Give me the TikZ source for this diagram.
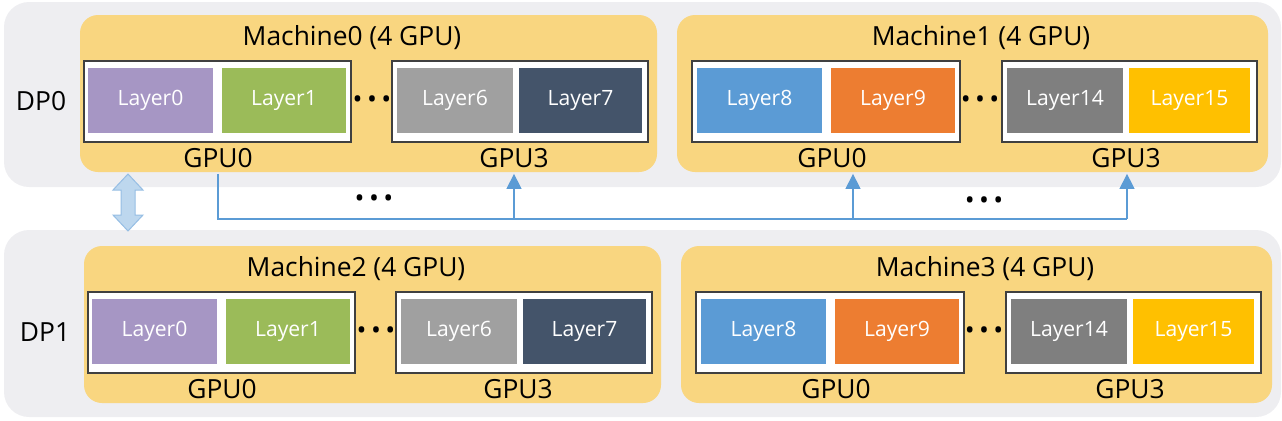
\documentclass[tikz,border=0pt]{standalone}
\usepackage{fontspec}
\setmainfont{Open Sans}
\usetikzlibrary{arrows.meta,backgrounds}

\definecolor{bandgray}{RGB}{238,238,241}
\definecolor{machineyellow}{RGB}{249,214,128}
\definecolor{boxborder}{RGB}{64,64,64}
\definecolor{linkblue}{RGB}{91,155,213}
\definecolor{syncfill}{RGB}{189,215,238}
\definecolor{syncdraw}{RGB}{150,190,228}
\definecolor{lpurple}{RGB}{166,150,196}
\definecolor{lgreen}{RGB}{155,187,89}
\definecolor{lsilver}{RGB}{160,160,160}
\definecolor{lnavy}{RGB}{68,84,106}
\definecolor{lblue}{RGB}{91,155,213}
\definecolor{lorange}{RGB}{237,125,49}
\definecolor{lgray}{RGB}{127,127,127}
\definecolor{lgold}{RGB}{255,192,0}

\begin{document}
\begin{tikzpicture}[x=0.2mm,y=-0.2mm,
    machine/.style={fill=machineyellow,rounded corners=3.6mm},
    gpubox/.style={draw=boxborder,fill=white,line width=0.3mm},
    layer/.style={minimum height=13mm,inner sep=0pt,text=white,font=\fontsize{12}{14}\selectfont},
    title/.style={font=\fontsize{15}{18}\selectfont},
    dots/.style={font=\fontsize{15}{18}\selectfont,inner sep=0pt},
    link/.style={draw=linkblue,line width=0.25mm},
    tip/.style={-{Triangle[width=3mm,length=3mm]}},
    sync/.style={fill=syncfill,draw=syncdraw,line width=0.2mm}]
    \useasboundingbox (0,0) rectangle (1282,420);

    \begin{scope}[on background layer]
      \fill[bandgray,rounded corners=5mm] (4,2) rectangle (1281,187);
      \fill[bandgray,rounded corners=5mm] (4,230) rectangle (1281,417);
    \end{scope}

    % one row per data parallel group
    \foreach \r/\dx/\dy in {0/0/0,1/4/231}{
      \pgfmathtruncatemacro\ma{2*\r}
      \pgfmathtruncatemacro\mb{2*\r+1}
      \begin{scope}[shift={(\dx,\dy)}]
        \node[title] (dp\r) at (41,101) {DP\r};

        \fill[machine] (80,15) rectangle (657,172);
        \fill[machine] (677,15) rectangle (1268,172);
        \node[title] (m\ma) at (352,38) {Machine\ma\ (4 GPU)};
        \node[title] (m\mb) at (981,38) {Machine\mb\ (4 GPU)};

        \draw[gpubox] (84,61) rectangle (351,142);
        \draw[gpubox] (392,61) rectangle (648,142);
        \draw[gpubox] (692,61) rectangle (960,142);
        \draw[gpubox] (1002,61) rectangle (1257,142);

        \foreach \n/\lx/\lw/\lc in {0/150.5/125/lpurple,1/284/124/lgreen,
            6/455/116/lsilver,7/580.5/123/lnavy,8/759.5/125/lblue,
            9/893/124/lorange,14/1065/116/lgray,15/1189.5/121/lgold}
          \node[layer,fill=\lc,minimum width=\lw*0.2mm] (L\r-\n) at (\lx,100.5) {Layer\n};

        \node[dots] (dots\ma) at (372,102) {\textbullet\,\textbullet\,\textbullet};
        \node[dots] (dots\mb) at (980,102) {\textbullet\,\textbullet\,\textbullet};

        \node[title] (gpuA\ma) at (218,158) {GPU0};
        \node[title] (gpuB\ma) at (514,158) {GPU3};
        \node[title] (gpuA\mb) at (832,158) {GPU0};
        \node[title] (gpuB\mb) at (1126,158) {GPU3};
      \end{scope}
    }

    % pipeline links between the stages of DP0
    \coordinate (busR) at (1127,219);
    \coordinate (tap) at (853,219);
    \draw[link] (gpuA0.south) |- (busR);
    \draw[link,tip] (gpuB0.south |- busR) -- (gpuB0.south);
    \draw[link,tip] (tap) -- (tap |- gpuA1.south);
    \draw[link,tip] (busR) -- (busR |- gpuB1.south);

    \node[dots] (busdotsA) at (374,201) {\textbullet\,\textbullet\,\textbullet};
    \node[dots] (busdotsB) at (984,203) {\textbullet\,\textbullet\,\textbullet};

    % sync between DP0 and DP1
    \draw[sync] (128,174) -- ++(15,16) -- ++(-8,0) -- ++(0,25) -- ++(8,0)
      -- ++(-15,16) -- ++(-15,-16) -- ++(8,0) -- ++(0,-25) -- ++(-8,0) -- cycle;
  \end{tikzpicture}
\end{document}
